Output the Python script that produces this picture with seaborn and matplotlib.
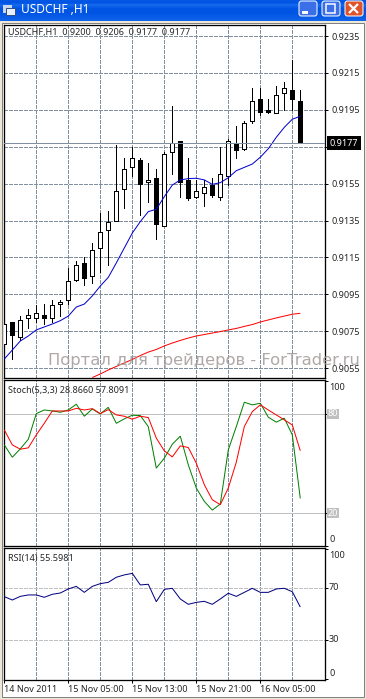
import numpy as np
import pandas as pd
import matplotlib
matplotlib.use('Agg')
import matplotlib.pyplot as plt
import seaborn as sns
from matplotlib.patches import FancyBboxPatch, Rectangle

# Candles
opens = [.9068, .9080, .9072, .9082, .9082, .9084, .9082, .9090, .9092, .9103,
         .9112, .9105, .9120, .9130, .9135, .9152, .9164, .9168, .9156, .9158,
         .9132, .9172, .9178, .9157, .9148, .9150, .9154, .9148, .9159, .9177,
         .9174, .9189, .9201, .9195, .9193, .9204, .9206, .9200]
highs = [.9080, .9080, .9083, .9087, .9089, .9090, .9092, .9092, .9109, .9113,
         .9115, .9123, .9139, .9140, .9176, .9169, .9175, .9169, .9166, .9163,
         .9172, .9197, .9178, .9169, .9157, .9157, .9158, .9175, .9179, .9186,
         .9189, .9207, .9207, .9201, .9208, .9210, .9222, .9206]
lows = [.9063, .9060, .9070, .9077, .9080, .9079, .9080, .9083, .9090, .9102,
        .9100, .9101, .9107, .9111, .9135, .9142, .9159, .9138, .9145, .9125,
        .9132, .9160, .9148, .9146, .9147, .9143, .9148, .9146, .9154, .9169,
        .9173, .9188, .9192, .9193, .9193, .9195, .9195, .9177]
closes = [.9079, .9073, .9081, .9084, .9085, .9082, .9089, .9091, .9102, .9111,
          .9104, .9119, .9129, .9134, .9151, .9163, .9169, .9155, .9157, .9133,
          .9171, .9177, .9156, .9147, .9151, .9153, .9149, .9160, .9178, .9173,
          .9188, .9200, .9194, .9194, .9203, .9207, .9201, .9177]

# Moving averages
ma_fast = [.90599, .90648, .90697, .90724, .90757, .90773, .90789, .90807, .90832, .90881,
           .90897, .90941, .90995, .91042, .91120, .91201, .91282, .91344, .91398, .91411,
           .91479, .91542, .91570, .91577, .91579, .91570, .91546, .91555, .91582, .91620,
           .91638, .91656, .91693, .91739, .91801, .91855, .91899, .91915]
ma_slow = [.90499, .90518, .90540, .90559, .90578, .90597, .90618, .90637, .90651, .90670,
           .90686, .90700, .90713, .90724, .90732, .90740, .90748, .90757, .90765, .90776,
           .90786, .90800, .90811, .90822, .90832, .90842, .90847]

# Oscillators
stoch_main = [61.4, 53.9, 59.0, 64.8, 80.4, 82.6, 82.0, 81.2, 82.6, 86.1,
              78.8, 83.2, 80.2, 84.2, 74.5, 77.2, 79.4, 79.2, 72.5, 47.3,
              53.3, 61.8, 66.7, 49.3, 35.2, 27.1, 21.8, 25.5, 58.4, 72.5,
              87.3, 85.7, 86.7, 78.2, 75.2, 77.6, 67.5, 28.866]
stoch_signal = [70.5, 61.4, 58.8, 59.6, 67.5, 74.5, 82.0, 82.0, 82.0, 83.6,
                82.6, 83.4, 80.4, 82.8, 79.6, 78.8, 77.0, 78.8, 78.0, 65.5,
                57.8, 54.1, 60.8, 59.8, 50.3, 37.2, 28.1, 25.1, 35.2, 50.9,
                72.5, 81.6, 85.7, 82.6, 79.6, 76.6, 73.5, 57.8091]
rsi_values = [63.6, 61.0, 63.8, 64.9, 64.9, 63.1, 65.4, 66.4, 69.5, 71.5,
              66.9, 71.5, 73.6, 74.6, 78.5, 80.3, 81.5, 72.6, 73.1, 59.7,
              69.2, 70.0, 61.8, 57.7, 59.2, 60.0, 57.7, 61.8, 66.2, 63.8,
              66.9, 70.0, 66.9, 66.9, 69.5, 70.0, 67.4, 55.5981]

price_ticks = [.9235, .9215, .9195, .9175, .9155, .9135, .9115, .9095, .9075, .9055]
time_ticks = [0, 8, 16, 24, 32]
time_labels = ['14 Nov 2011', '15 Nov 05:00', '15 Nov 13:00', '15 Nov 21:00', '16 Nov 05:00']
bid_price = .9177

bars = np.arange(len(closes))
df = pd.DataFrame({'bar': bars, 'open': opens, 'high': highs, 'low': lows, 'close': closes,
                   'ma_fast': ma_fast, 'stoch_main': stoch_main,
                   'stoch_signal': stoch_signal, 'rsi': rsi_values})
df_slow = pd.DataFrame({'bar': bars[-len(ma_slow):], 'ma_slow': ma_slow})

sns.set_style('white')
plt.rcParams['font.family'] = ['Noto Sans', 'DejaVu Sans']
plt.rcParams['font.size'] = 6.5
plt.rcParams['lines.scale_dashes'] = False
plt.rcParams['lines.solid_capstyle'] = 'butt'
plt.rcParams['lines.solid_joinstyle'] = 'miter'

W, H = 366, 699
PX = 0.72  # one pixel in points at dpi 100
GRID = '#8090A0'
DASH = (0, (4 * PX, 2 * PX))
fig = plt.figure(figsize=(W / 100, H / 100), dpi=100, facecolor='#ECE9D8')


def panel(top, bottom, left=4, right=325):
    ax = fig.add_axes([left / W, 1 - bottom / H, (right - left) / W, (bottom - top) / H])
    ax.set_facecolor('white')
    for s in ax.spines.values():
        s.set_color('black')
        s.set_linewidth(PX * 1.3)
    ax.set_xlim((left - 4.3) / 8, (right - 4.3) / 8)
    ax.yaxis.tick_right()
    ax.set_xticks([])
    ax.tick_params(axis='y', length=3 * PX, width=PX, pad=2.5, color='black', right=True, left=False)
    for k in range(4, 37, 4):
        ax.axvline(k, color=GRID, lw=PX, ls=DASH, antialiased=False, zorder=1)
    return ax


def thin_line(data, y, ax, color):
    # seaborn draws the line, the width is set on the artist afterwards
    sns.lineplot(data=data, x='bar', y=y, ax=ax, color=color, estimator=None, errorbar=None, zorder=5)
    line = ax.get_lines()[-1]
    line.set_linewidth(PX)
    line.set_antialiased(True)
    ax.set_xlabel('')
    ax.set_ylabel('')


# Window chrome in pixel coordinates
bg = fig.add_axes([0, 0, 1, 1])
title_bar = np.array([[0.05], [0.0], [0.35], [0.2], [0.0], [0.0], [0.0], [0.05], [0.1], [0.15], [0.25]])
title_cmap = matplotlib.colors.LinearSegmentedColormap.from_list('bar', ['#0054E3', '#3D95FF'])
bg.imshow(title_bar, extent=(0, W, 21, 0), aspect='auto', cmap=title_cmap, vmin=0, vmax=1,
          interpolation='bilinear')
bg.set_xlim(0, W)
bg.set_ylim(H, 0)
bg.axis('off')
bg.add_patch(Rectangle((2, 23), W - 4, 674, facecolor='white', edgecolor='#808080', lw=PX))
bg.add_patch(Rectangle((3, 5), 9, 8, color='#C8D8F0', lw=0))
bg.add_patch(Rectangle((6, 8), 9, 7, color='#E8F0FF', ec='#305080', lw=PX))
bg.text(21, 9.5, 'USDCHF ,H1', color='white', fontsize=8.6, fontweight='bold', va='center', ha='left')
for x0, col in [(298, '#3A6FE8'), (321, '#3A6FE8'), (344, '#E0532A')]:
    bg.add_patch(FancyBboxPatch((x0 + 1, 1), 18, 15, boxstyle='round,pad=0,rounding_size=2.5',
                                facecolor=col, edgecolor='white', lw=PX))
bg.add_patch(Rectangle((302, 11), 6, 2.5, color='white', lw=0))
bg.add_patch(Rectangle((326, 4), 9, 9, facecolor='none', edgecolor='white', lw=PX * 1.5))
bg.plot([349, 358], [4, 13], color='white', lw=1.6)
bg.plot([349, 358], [13, 4], color='white', lw=1.6)

# Price panel
ax1 = panel(25, 378)
ax1.set_ylim(.9235 - 342 / 18450, .9235 + 11 / 18450)
for p in price_ticks:
    ax1.axhline(p, color=GRID, lw=PX, ls=DASH, antialiased=False, zorder=1)
ax1.set_yticks(price_ticks)
ax1.set_yticklabels([f'{p:.4f}' for p in price_ticks])
ax1.vlines(df['bar'], df['low'], df['high'], color='black', lw=PX, antialiased=False, zorder=3)
up = df[df['close'] >= df['open']]
down = df[df['close'] < df['open']]
ax1.bar(up['bar'], up['close'] - up['open'], bottom=up['open'], width=0.5, facecolor='white',
        edgecolor='black', lw=PX, antialiased=False, zorder=4)
ax1.bar(down['bar'], down['open'] - down['close'], bottom=down['close'], width=0.5, facecolor='black',
        edgecolor='black', lw=PX, antialiased=False, zorder=4)
thin_line(df, 'ma_fast', ax1, '#0000CD')
thin_line(df_slow, 'ma_slow', ax1, '#FF0000')
ax1.axhline(bid_price, color=GRID, lw=PX, antialiased=False, zorder=6)

# Stochastic panel
ax2 = panel(380, 546)
ax2.set_ylim(0.18, 100.8)
for lv in [80, 20]:
    ax2.axhline(lv, color='#C0C0C0', lw=PX, antialiased=False, zorder=1)
thin_line(df, 'stoch_main', ax2, '#008000')
thin_line(df, 'stoch_signal', ax2, '#FF0000')
ax2.set_yticks([100, 80, 20, 0])
ax2.set_yticklabels(['', '', '', ''])

# RSI panel
ax3 = panel(548, 680)
ax3.set_ylim(-0.5, 101)
for lv in [70, 30]:
    ax3.axhline(lv, color='#C0C0C0', lw=PX, ls=DASH, antialiased=False, zorder=1)
thin_line(df, 'rsi', ax3, '#000080')
ax3.set_yticks([100, 70, 30, 0])
ax3.set_yticklabels(['', '', '', ''])
ax3.set_xticks(time_ticks)
ax3.set_xticklabels(time_labels, ha='left')
ax3.tick_params(axis='x', length=3 * PX, width=PX, pad=1.5, color='black', bottom=True)

# Texts that sit on top of the panels
over = fig.add_axes([0, 0, 1, 1], facecolor='none')
over.set_xlim(0, W)
over.set_ylim(H, 0)
over.axis('off')
over.text(8, 33, 'USDCHF,H1  0.9200  0.9206  0.9177  0.9177', va='center', ha='left')
over.text(8, 391, 'Stoch(5,3,3) 28.8660 57.8091', va='center', ha='left')
over.text(8, 558, 'RSI(14) 55.5981', va='center', ha='left')
for y, lab in [(387, '100'), (539, '0')]:
    over.text(329, y, lab, va='center', ha='left')
for y, lab in [(414, '80'), (513, '20')]:
    over.text(328, y, lab, va='center', ha='left', color='white',
              bbox=dict(facecolor='#C0C0C0', edgecolor='none', pad=0.6))
for y, lab in [(555, '100'), (587, '70'), (640, '30'), (673, '0')]:
    over.text(329, y, lab, va='center', ha='left')
over.text(330, 143, f'{bid_price:.4f}', color='white', va='center', ha='left', zorder=6,
          bbox=dict(facecolor='black', edgecolor='none', pad=2))
over.text(48, 360, 'Портал для трейдеров - ForTrader.ru', color='#A89E9E', fontsize=11.8,
          va='center', ha='left', alpha=0.9, family=['DejaVu Sans'])

fig.savefig('out.png', dpi=100, facecolor=fig.get_facecolor())
